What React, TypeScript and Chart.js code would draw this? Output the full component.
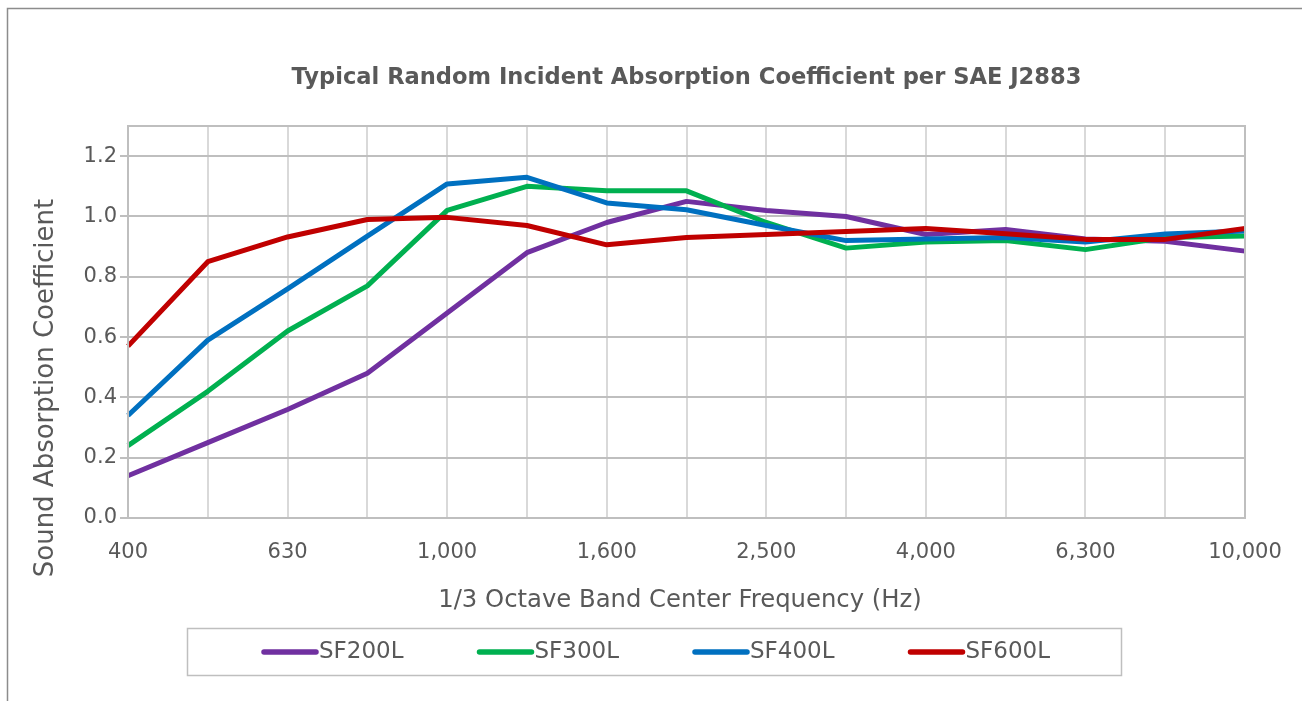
import React, { useEffect, useRef } from "react";
import { Chart, registerables } from "chart.js";

Chart.register(...registerables);

const categories = ["400", "500", "630", "800", "1,000", "1,250", "1,600", "2,000", "2,500", "3,150", "4,000", "5,000", "6,300", "8,000", "10,000"];
const sf200 = [0.14, 0.25, 0.36, 0.48, 0.68, 0.88, 0.98, 1.05, 1.02, 1.0, 0.94, 0.957, 0.925, 0.918, 0.885];
const sf300 = [0.24, 0.42, 0.62, 0.77, 1.02, 1.1, 1.085, 1.085, 0.98, 0.895, 0.915, 0.92, 0.89, 0.93, 0.935];
const sf400 = [0.34, 0.59, 0.76, 0.935, 1.108, 1.13, 1.045, 1.022, 0.97, 0.92, 0.925, 0.93, 0.915, 0.942, 0.952];
const sf600 = [0.57, 0.85, 0.932, 0.99, 0.997, 0.97, 0.906, 0.93, 0.94, 0.95, 0.96, 0.943, 0.924, 0.924, 0.96];
const seriesNames = ["SF200L", "SF300L", "SF400L", "SF600L"];
const seriesColors = ["#7030A0", "#00B050", "#0070C0", "#C00000"];
const yTicks = [0, 0.2, 0.4, 0.6, 0.8, 1.0, 1.2];

const chartTitle = "Typical Random Incident Absorption Coefficient per SAE J2883";
const xTitle = "1/3 Octave Band Center Frequency (Hz)";
const yTitle = "Sound Absorption Coefficient";

const TEXT = "#595959";
const FONT = "'DejaVu Sans', sans-serif";

const decorPlugin = {
  id: "decor",
  beforeDraw(chart: any) {
    const ctx = chart.ctx;
    ctx.save();
    ctx.fillStyle = "#ffffff";
    ctx.fillRect(0, 0, chart.width, chart.height);
    ctx.strokeStyle = "#8C8C8C";
    ctx.lineWidth = 1.5;
    ctx.strokeRect(7.5, 8.5, chart.width + 10, chart.height + 10);
    ctx.restore();
  },
  afterDraw(chart: any) {
    const ctx = chart.ctx;
    const a = chart.chartArea;
    ctx.save();
    // plot frame
    ctx.strokeStyle = "#BFBFBF";
    ctx.lineWidth = 2;
    ctx.strokeRect(a.left, a.top, a.right - a.left, a.bottom - a.top);

    // title
    ctx.fillStyle = TEXT;
    ctx.textAlign = "center";
    ctx.textBaseline = "middle";
    ctx.font = `bold 22.6px ${FONT}`;
    ctx.fillText(chartTitle, 686.5, 78);

    // x title
    ctx.font = `24.3px ${FONT}`;
    ctx.fillText(xTitle, 680, 601);

    // y title
    ctx.save();
    ctx.translate(46, 388);
    ctx.rotate(-Math.PI / 2);
    ctx.font = `26px ${FONT}`;
    ctx.fillText(yTitle, 0, 0);
    ctx.restore();

    // legend
    ctx.strokeStyle = "#BFBFBF";
    ctx.lineWidth = 1.5;
    ctx.strokeRect(187.5, 628.5, 934, 47);
    ctx.font = `23px ${FONT}`;
    ctx.textAlign = "left";
    chart.data.datasets.forEach((ds: any, i: number) => {
      const x0 = 264 + i * 215.5;
      const y0 = 652;
      ctx.strokeStyle = ds.borderColor;
      ctx.lineWidth = 5.5;
      ctx.lineCap = "round";
      ctx.beginPath();
      ctx.moveTo(x0, y0);
      ctx.lineTo(x0 + 52, y0);
      ctx.stroke();
      ctx.fillStyle = TEXT;
      ctx.fillText(ds.label, x0 + 55, y0);
    });
    ctx.restore();
  },
};

export default function App() {
  const ref = useRef<HTMLCanvasElement | null>(null);

  useEffect(() => {
    document.body.style.margin = "0";
    const canvas = ref.current;
    if (!canvas) return;
    const values = [sf200, sf300, sf400, sf600];
    const orders = [4, 3, 2, 1];
    const chart = new Chart(canvas, {
      type: "line",
      data: {
        labels: categories,
        datasets: values.map((v, i) => ({
          label: seriesNames[i],
          data: v,
          borderColor: seriesColors[i],
          backgroundColor: seriesColors[i],
          borderWidth: 5,
          pointRadius: 0,
          tension: 0,
          borderJoinStyle: "round" as const,
          order: orders[i],
        })),
      },
      options: {
        responsive: false,
        animation: false,
        layout: { padding: { top: 126, left: 0, right: 57, bottom: 83 } },
        plugins: {
          legend: { display: false },
          title: { display: false },
          tooltip: { enabled: false },
        },
        scales: {
          x: {
            type: "category",
            offset: false,
            afterFit: (s: any) => {
              s.height = 100;
              s.paddingLeft = 0;
              s.paddingRight = 0;
            },
            grid: { color: "#D9D9D9", lineWidth: 2, drawTicks: false },
            border: { color: "#BFBFBF", width: 2 },
            ticks: {
              autoSkip: false,
              maxRotation: 0,
              padding: 22,
              color: TEXT,
              font: { family: FONT, size: 21 },
              callback: (_v: any, i: number) => (i % 2 === 0 ? categories[i] : ""),
            },
          },
          y: {
            type: "linear",
            min: 0,
            max: 1.3,
            bounds: "data",
            afterFit: (s: any) => {
              s.width = 128;
            },
            afterBuildTicks: (s: any) => {
              s.ticks = yTicks.map((v) => ({ value: v }));
            },
            grid: { color: "#BFBFBF", lineWidth: 2, drawTicks: true, tickLength: 8, tickColor: "#BFBFBF" },
            border: { color: "#BFBFBF", width: 2 },
            ticks: {
              stepSize: 0.2,
              includeBounds: false,
              padding: 3,
              color: TEXT,
              font: { family: FONT, size: 21 },
              callback: (v: any) => Number(v).toFixed(1),
            },
          },
        },
      },
      plugins: [decorPlugin],
    });
    return () => chart.destroy();
  }, []);

  return (
    <div style={{ width: 1302, height: 701 }}>
      <canvas ref={ref} width={1302} height={701} style={{ display: "block" }} />
    </div>
  );
}
